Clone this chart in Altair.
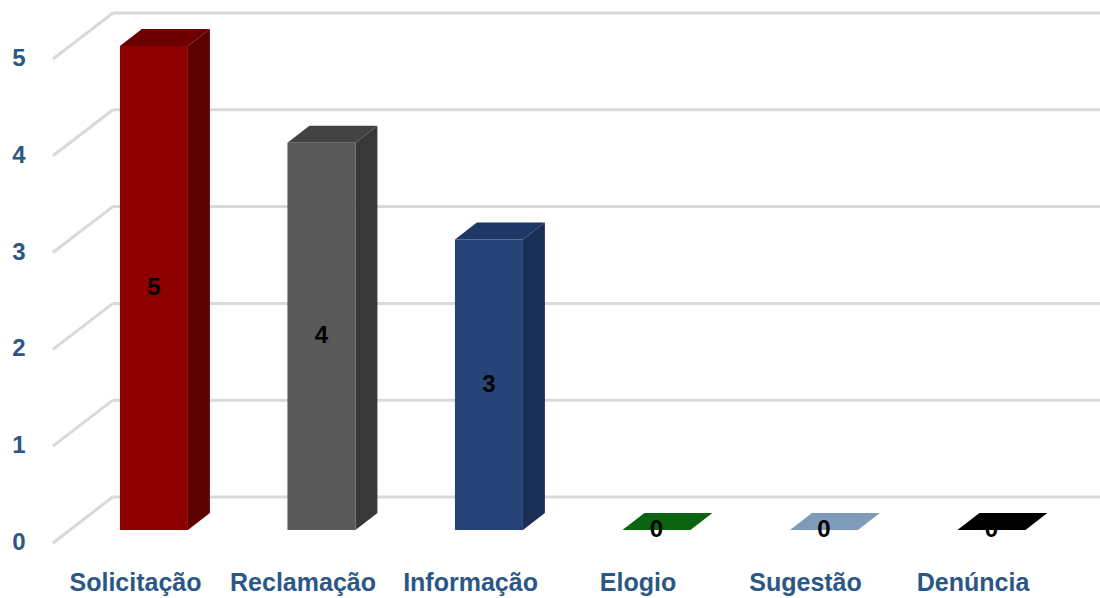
import altair as alt
import pandas as pd

categories = ["Solicitação", "Reclamação", "Informação", "Elogio", "Sugestão", "Denúncia"]
values = [5, 4, 3, 0, 0, 0]
front_colors = ["#8E0000", "#595959", "#264478", "#0B6410", "#7E9BBA", "#000000"]
top_colors = ["#6C0000", "#424242", "#1E3766", "#0B6410", "#7E9BBA", "#000000"]
side_colors = ["#5C0000", "#383838", "#1A2E56", "#084C0C", "#6A86A4", "#000000"]
y_ticks = [0, 1, 2, 3, 4, 5]

# geometry in data units (x: category index, y: value)
HW = 0.203          # half bar width
DX, DY = 0.131, 0.176   # bar depth
WALL_X = -0.245     # back wall left edge
FLOOR_X = -0.603    # front edge of floor
WALL_DY = 0.341     # back wall lift relative to bar front
FLOOR_DY = 0.134    # floor front drop relative to bar front
XMIN, XMAX = -0.919, 5.648
YMIN, YMAX = -0.7025, 5.475

xs = alt.Scale(domain=[XMIN, XMAX], nice=False, zero=False)
ys = alt.Scale(domain=[YMIN, YMAX], nice=False, zero=False)


def bx(f):
    return alt.X(f, type="quantitative", scale=xs, axis=None)


def by(f):
    return alt.Y(f, type="quantitative", scale=ys, axis=None, stack=None)


front = pd.DataFrame({
    "cat": categories,
    "x": [i - HW for i in range(6)],
    "x2": [i + HW for i in range(6)],
    "y": [0.0] * 6,
    "y2": [float(v) for v in values],
    "c": front_colors,
})

faces = []
for i, (c, v) in enumerate(zip(categories, values)):
    side = pd.DataFrame({
        "x": [i + HW, i + HW + DX],
        "y": [0.0, DY],
        "y2": [float(v), v + DY],
    })
    top = pd.DataFrame({
        "y": [float(v), v + DY],
        "x": [i - HW, i - HW + DX],
        "x2": [i + HW, i + HW + DX],
    })
    faces.append(alt.Chart(side).mark_area(interpolate="linear", color=side_colors[i], opacity=1).encode(
        x=bx("x"), y=by("y"), y2="y2"))
    faces.append(alt.Chart(top).mark_area(orient="horizontal", interpolate="linear",
                                          color=top_colors[i], opacity=1).encode(
        y=by("y"), x=alt.X("x", type="quantitative", scale=xs, axis=None, stack=None), x2="x2"))

grid = pd.DataFrame({
    "t": y_ticks,
    "gy": [t + WALL_DY for t in y_ticks],
    "fy": [t - FLOOR_DY for t in y_ticks],
    "wx": [WALL_X] * 6,
    "fx": [FLOOR_X] * 6,
    "ex": [XMAX] * 6,
    "lx": [-0.806] * 6,
})

labels = pd.DataFrame({
    "cat": categories,
    "x": [i - 0.11 for i in range(6)],
    "y": [-0.548] * 6,
    "v": values,
    "vx": [float(i) for i in range(6)],
    "vy": [v / 2 for v in values],
})

hgrid = alt.Chart(grid).mark_rule(color="#D9D9D9", strokeWidth=3).encode(
    x=bx("wx"), x2="ex", y=by("gy"))
dgrid = alt.Chart(grid).mark_rule(color="#D9D9D9", strokeWidth=3).encode(
    x=bx("fx"), x2="wx", y=by("fy"), y2="gy")
ylab = alt.Chart(grid).mark_text(font="Liberation Sans", fontSize=24, fontWeight="bold",
                                 color="#2A5786", align="center", baseline="middle").encode(
    x=bx("lx"), y=by("fy"), text="t:Q")

front_m = alt.Chart(front).mark_rect().encode(
    x=bx("x"), x2="x2", y=by("y"), y2="y2", color=alt.Color("c:N", scale=None))

vlab = alt.Chart(labels).mark_text(font="Liberation Sans", fontSize=24, fontWeight="bold",
                                   color="#000000", baseline="middle").encode(
    x=bx("vx"), y=by("vy"), text="v:Q")
clab = alt.Chart(labels).mark_text(font="Liberation Sans", fontSize=25, fontWeight="bold",
                                   color="#2A5786", baseline="middle").encode(
    x=bx("x"), y=by("y"), text="cat:N")

chart = alt.layer(hgrid, dgrid, ylab, *faces, front_m, vlab, clab).properties(
    width=1100, height=598, padding=0,
    autosize=alt.AutoSizeParams(type="none"),
    background="#FFFFFF",
).configure_view(stroke=None)

chart.save("out.html", embed_options={"renderer": "svg", "actions": False})
